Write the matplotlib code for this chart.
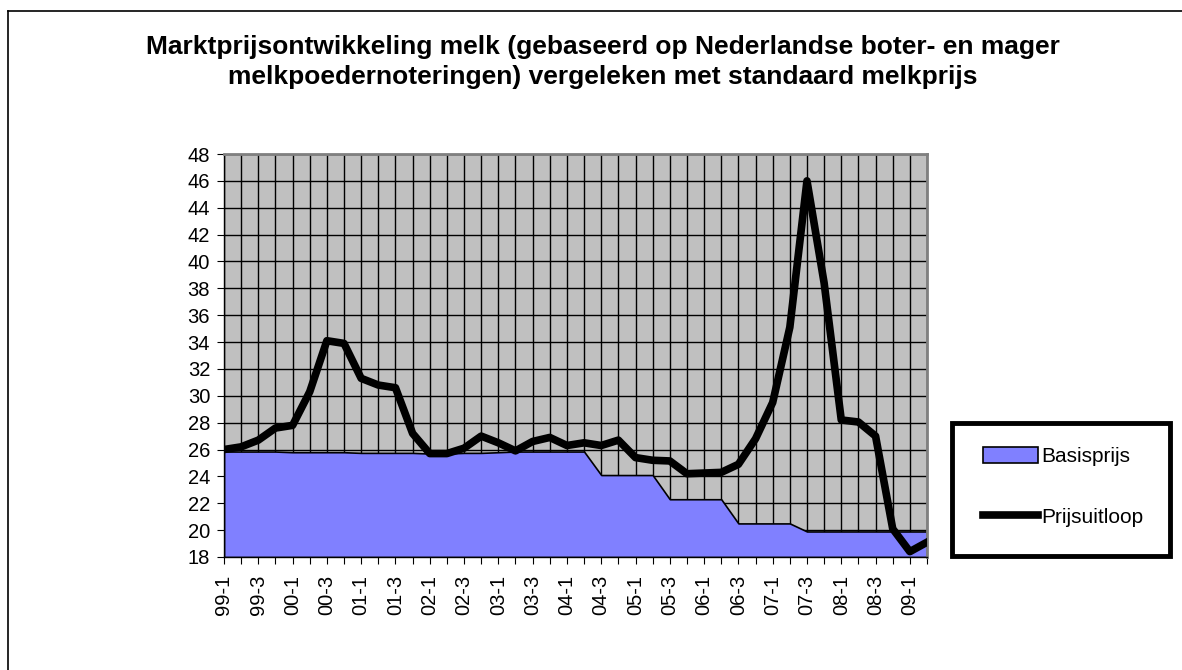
import matplotlib
matplotlib.use('Agg')
import matplotlib.pyplot as plt
from matplotlib.patches import Rectangle, Patch
from matplotlib.lines import Line2D
import numpy as np

plt.rcParams['font.family'] = ['Liberation Sans', 'DejaVu Sans']

# kwartalen 99-1 t/m 09-2
kwartalen = [f'{j:02d}-{q}' for j in [99, 0, 1, 2, 3, 4, 5, 6, 7, 8, 9] for q in [1, 2, 3, 4]][:42]

prijsuitloop = [26.0, 26.2, 26.7, 27.6, 27.8, 30.3, 34.1, 33.9, 31.3, 30.8,
                30.6, 27.2, 25.7, 25.7, 26.1, 27.0, 26.5, 25.9, 26.6, 26.9,
                26.3, 26.5, 26.3, 26.7, 25.4, 25.2, 25.15, 24.2, 24.25, 24.3,
                24.9, 26.8, 29.5, 35.1, 46.0, 38.4, 28.2, 28.05, 27.0, 20.1,
                18.4, 19.1]

basisprijs = [25.85, 25.85, 25.85, 25.85, 25.8, 25.8, 25.8, 25.8, 25.75, 25.75,
              25.75, 25.75, 25.7, 25.7, 25.75, 25.75, 25.8, 25.85, 25.85, 25.85,
              25.85, 25.85, 24.1, 24.1, 24.1, 24.1, 22.3, 22.3, 22.3, 22.3,
              20.5, 20.5, 20.5, 20.5, 19.9, 19.9, 19.9, 19.9, 19.9, 19.9,
              19.9, 19.9]

titel = ('Marktprijsontwikkeling melk (gebaseerd op Nederlandse boter- en mager\n'
         'melkpoedernoteringen) vergeleken met standaard melkprijs')

fig = plt.figure(figsize=(11.82, 6.7), dpi=100)
W, H = 1182, 670
ax = fig.add_axes([224 / W, 1 - 557 / H, (927 - 224) / W, (557 - 154) / H])
ax.set_facecolor('#C0C0C0')

x = np.arange(len(kwartalen))
ax.fill_between(x, 18, basisprijs, color='#8080FF', edgecolor='black', linewidth=1.2, zorder=2)
ax.plot(x, prijsuitloop, color='black', linewidth=5.5, solid_joinstyle='round', zorder=3)

ax.set_xlim(0, len(kwartalen) - 1)
ax.set_ylim(18, 48)
ax.set_yticks(range(18, 49, 2))
ax.set_xticks(x)
ax.set_xticklabels([k if i % 2 == 0 else '' for i, k in enumerate(kwartalen)], rotation=90)
ax.tick_params(axis='both', labelsize=14.5, direction='out', length=5, color='black')
ax.tick_params(axis='x', pad=8)
ax.tick_params(axis='y', pad=5)
ax.grid(True, color='black', linewidth=1)
ax.set_axisbelow(True)

for s in ['top', 'right']:
    ax.spines[s].set_color('#808080')
    ax.spines[s].set_linewidth(2)
for s in ['left', 'bottom']:
    ax.spines[s].set_color('black')
    ax.spines[s].set_linewidth(1)

fig.text(603 / W, 1 - 62 / H, titel, ha='center', va='center', fontsize=19,
         fontweight='bold', linespacing=1.35)

# rand rond de grafiek
fig.add_artist(Line2D([8 / W, 8 / W], [0, 1 - 11 / H], color='black', linewidth=1.2))
fig.add_artist(Line2D([8 / W, 1], [1 - 11 / H, 1 - 11 / H], color='black', linewidth=1.2))

# legenda
fig.add_artist(Rectangle((952 / W, 1 - 556 / H), (1170 - 952) / W, (556 - 423) / H,
                         transform=fig.transFigure, facecolor='white',
                         edgecolor='black', linewidth=3.5))
handles = [Patch(facecolor='#8080FF', edgecolor='black', linewidth=1.2),
           Line2D([0], [0], color='black', linewidth=5.5)]
fig.legend(handles, ['Basisprijs', 'Prijsuitloop'], loc='center',
           bbox_to_anchor=(1063 / W, 1 - 487 / H), frameon=False, fontsize=15,
           labelspacing=2.0, handlelength=2.65, handletextpad=0.15, handleheight=0.75)

fig.savefig('out.png', dpi=100)
